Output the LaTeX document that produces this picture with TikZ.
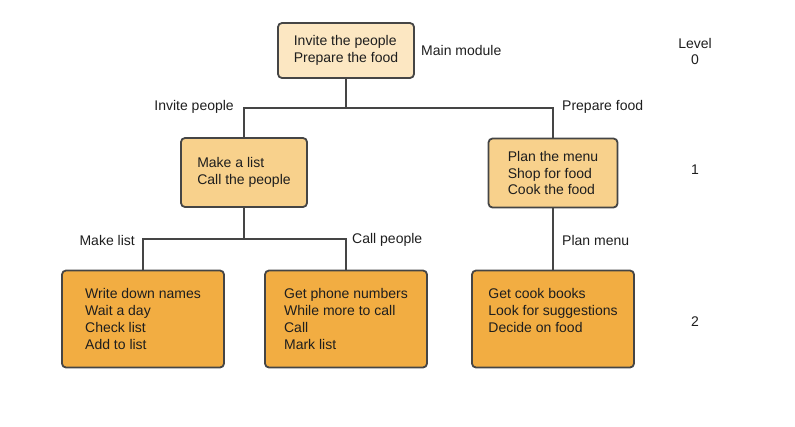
\documentclass[tikz,border=0pt]{standalone}
\usepackage{fontspec}
\setmainfont{Liberation Sans}
\definecolor{lvlzero}{HTML}{FCE7C2}
\definecolor{lvlone}{HTML}{F8D18C}
\definecolor{lvltwo}{HTML}{F2AD42}
\definecolor{edgegray}{HTML}{454545}
\definecolor{txt}{HTML}{1E1E1E}
\begin{document}
\begin{tikzpicture}[x=1pt,y=-1pt,
  every node/.style={font=\fontsize{14}{16.8}\selectfont, text=txt},
  modbox/.style={draw=edgegray, line width=1.8pt, rounded corners=4pt, inner sep=0pt, align=left},
  zerobox/.style={modbox, fill=lvlzero, minimum width=136pt, minimum height=55pt},
  onebox/.style={modbox, fill=lvlone, minimum width=126pt, minimum height=69pt},
  twobox/.style={modbox, fill=lvltwo, minimum width=162pt, minimum height=97pt},
  conn/.style={draw=edgegray, line width=1.6pt},
  lbl/.style={inner sep=0pt, text=txt}]
\useasboundingbox (0,0) rectangle (795,426);
% boxes
\node[zerobox] (top) at (346,50.5) {Invite the people\\Prepare the food};
\node[onebox] (mk) at (244,172.5) {Make a list\\Call the people};
\node[onebox, minimum width=129pt] (pf) at (553,173) {Plan the menu\\Shop for food\\Cook the food};
\node[twobox] (wd) at (143,319) {Write down names\\Wait a day\\Check list\\Add to list};
\node[twobox] (gp) at (346,319) {Get phone numbers\\While more to call\\Call\\Mark list};
\node[twobox] (gc) at (553,319) {Get cook books\\Look for suggestions\\Decide on food\\\mbox{}};
% junctions
\coordinate (j0) at (346,108);
\coordinate (j1) at (244,239);
% connectors
\draw[conn] (top.south) -- (j0);
\draw[conn] (mk.north) |- (j0) -| (pf.north);
\draw[conn] (mk.south) -- (j1);
\draw[conn] (wd.north) |- (j1) -| (gp.north);
\draw[conn] (pf.south) -- (gc.north);
% labels
\node[lbl, anchor=east] (l1) at (234,107) {Invite people};
\node[lbl, anchor=west] (l2) at (562,107) {Prepare food};
\node[lbl, anchor=west] (l3) at (421,50) {Main module};
\node[lbl, anchor=east] (l4) at (135,240) {Make list};
\node[lbl, anchor=west] (l5) at (352,240) {Call people};
\node[lbl, anchor=west] (l6) at (562,240) {Plan menu};
\node[lbl] (lv) at (695,43) {Level};
\node[lbl] (lv0) at (695,60) {0};
\node[lbl] (lv1) at (695,170) {1};
\node[lbl] (lv2) at (695,322) {2};
\end{tikzpicture}
\end{document}
